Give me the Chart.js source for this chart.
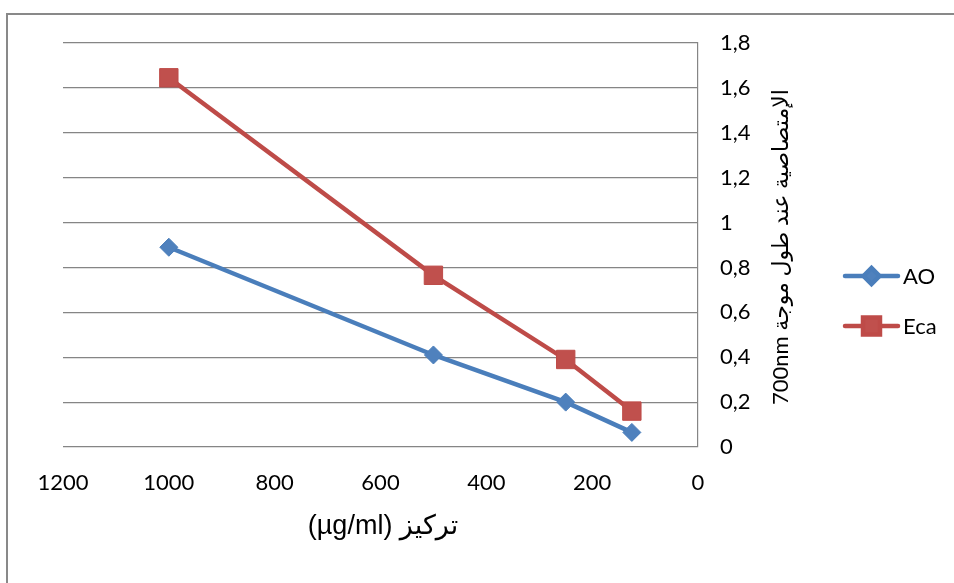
<!DOCTYPE html>
<html>
<head>
<meta charset="utf-8">
<script src="https://cdn.jsdelivr.net/npm/chart.js@4.4.0/dist/chart.umd.min.js"></script>
<style>
  html, body { margin: 0; padding: 0; background: #fff; }
  #wrap { width: 954px; height: 583px; position: relative; }
</style>
</head>
<body>
<div id="wrap"><canvas id="chart"></canvas></div>
<script>
// concentrations (µg/ml)
const concentrations = [1000, 500, 250, 125];
const aoValues = [0.89, 0.41, 0.20, 0.065];
const ecaValues = [1.645, 0.765, 0.39, 0.16];
const seriesNames = ["AO", "Eca"];
const xTitle = "تركيز (µg/ml)";
const yTitle = "الإمتصاصية عند طول موجة 700nm";

const tickFont = { family: "Lato, 'DejaVu Sans'", size: 22 };
const gridColor = "#858585";

function points(values) {
    return concentrations.map((c, i) => ({ x: c, y: values[i] }));
}

// frame, axis titles and excel-like legend
const decorations = {
    id: "decorations",
    beforeDraw(chart) {
        const ctx = chart.ctx;
        ctx.save();
        ctx.fillStyle = "#fff";
        ctx.fillRect(0, 0, chart.width, chart.height);
        ctx.strokeStyle = "#898989";
        ctx.lineWidth = 2;
        ctx.beginPath();
        ctx.moveTo(7, chart.height + 5);
        ctx.lineTo(7, 14);
        ctx.lineTo(chart.width + 5, 14);
        ctx.stroke();
        ctx.restore();
    },
    afterDraw(chart) {
        const ctx = chart.ctx;
        ctx.save();
        ctx.fillStyle = "#000";
        ctx.direction = "rtl";
        ctx.textAlign = "center";
        ctx.textBaseline = "middle";

        ctx.font = "22px Lato, 'DejaVu Sans'";
        ctx.save();
        ctx.translate(781, 247);
        ctx.rotate(-Math.PI / 2);
        ctx.fillText(yTitle, 0, 0);
        ctx.restore();

        ctx.font = "27px 'Liberation Sans', 'DejaVu Sans'";
        ctx.fillText(xTitle, 383, 527);

        // legend
        ctx.direction = "ltr";
        ctx.textAlign = "left";
        ctx.font = "22px Lato";
        chart.data.datasets.forEach((ds, i) => {
            const y = 276 + i * 50;
            ctx.strokeStyle = ds.borderColor;
            ctx.lineWidth = 4.5;
            ctx.lineCap = "round";
            ctx.beginPath();
            ctx.moveTo(845, y);
            ctx.lineTo(898, y);
            ctx.stroke();
            ctx.fillStyle = ds.pointBackgroundColor;
            ctx.strokeStyle = ds.pointBorderColor;
            Chart.helpers.drawPoint(ctx, {
                pointStyle: ds.pointStyle,
                radius: ds.pointStyle === "rect" ? 12 : 8,
                rotation: 0,
                borderWidth: 1
            }, 871.5, y);
            ctx.fillStyle = "#000";
            ctx.fillText(ds.label, 903, y + 1);
        });
        ctx.restore();
    }
};

new Chart(document.getElementById("chart"), {
    type: "line",
    data: {
        datasets: [{
            label: seriesNames[0],
            data: points(aoValues),
            borderColor: "#4A7EBB",
            borderWidth: 4.5,
            pointStyle: "rectRot",
            pointRadius: 9,
            pointHoverRadius: 9,
            pointBackgroundColor: "#4F81BD",
            pointBorderColor: "#4A7EBB",
            pointBorderWidth: 1,
            tension: 0,
            fill: false
        }, {
            label: seriesNames[1],
            data: points(ecaValues),
            borderColor: "#BE4B48",
            borderWidth: 4.5,
            pointStyle: "rect",
            pointRadius: 13,
            pointHoverRadius: 13,
            pointBackgroundColor: "#C0504D",
            pointBorderColor: "#BE4B48",
            pointBorderWidth: 1,
            tension: 0,
            fill: false
        }]
    },
    options: {
        responsive: true,
        maintainAspectRatio: false,
        animation: false,
        layout: { padding: { left: 63, top: 43, right: 0, bottom: 0 } },
        plugins: { legend: { display: false }, tooltip: { enabled: false } },
        scales: {
            x: {
                type: "linear",
                reverse: true,
                min: 0,
                max: 1200,
                grid: { display: false },
                border: { display: false },
                ticks: {
                    stepSize: 200,
                    padding: 15,
                    color: "#000",
                    font: tickFont,
                    maxRotation: 0,
                    callback: v => String(v)
                },
                afterFit(scale) { scale.height = 583 - 447; }
            },
            y: {
                position: "right",
                min: 0,
                max: 1.8,
                grid: { color: gridColor, lineWidth: 1.2, drawTicks: false },
                border: { display: true, color: gridColor, width: 1.2 },
                ticks: {
                    stepSize: 0.2,
                    padding: 22,
                    color: "#000",
                    font: tickFont,
                    callback: v => String(Math.round(v * 10) / 10).replace(".", ",")
                },
                afterFit(scale) { scale.width = 954 - 698; }
            }
        }
    },
    plugins: [decorations]
});
</script>
</body>
</html>
